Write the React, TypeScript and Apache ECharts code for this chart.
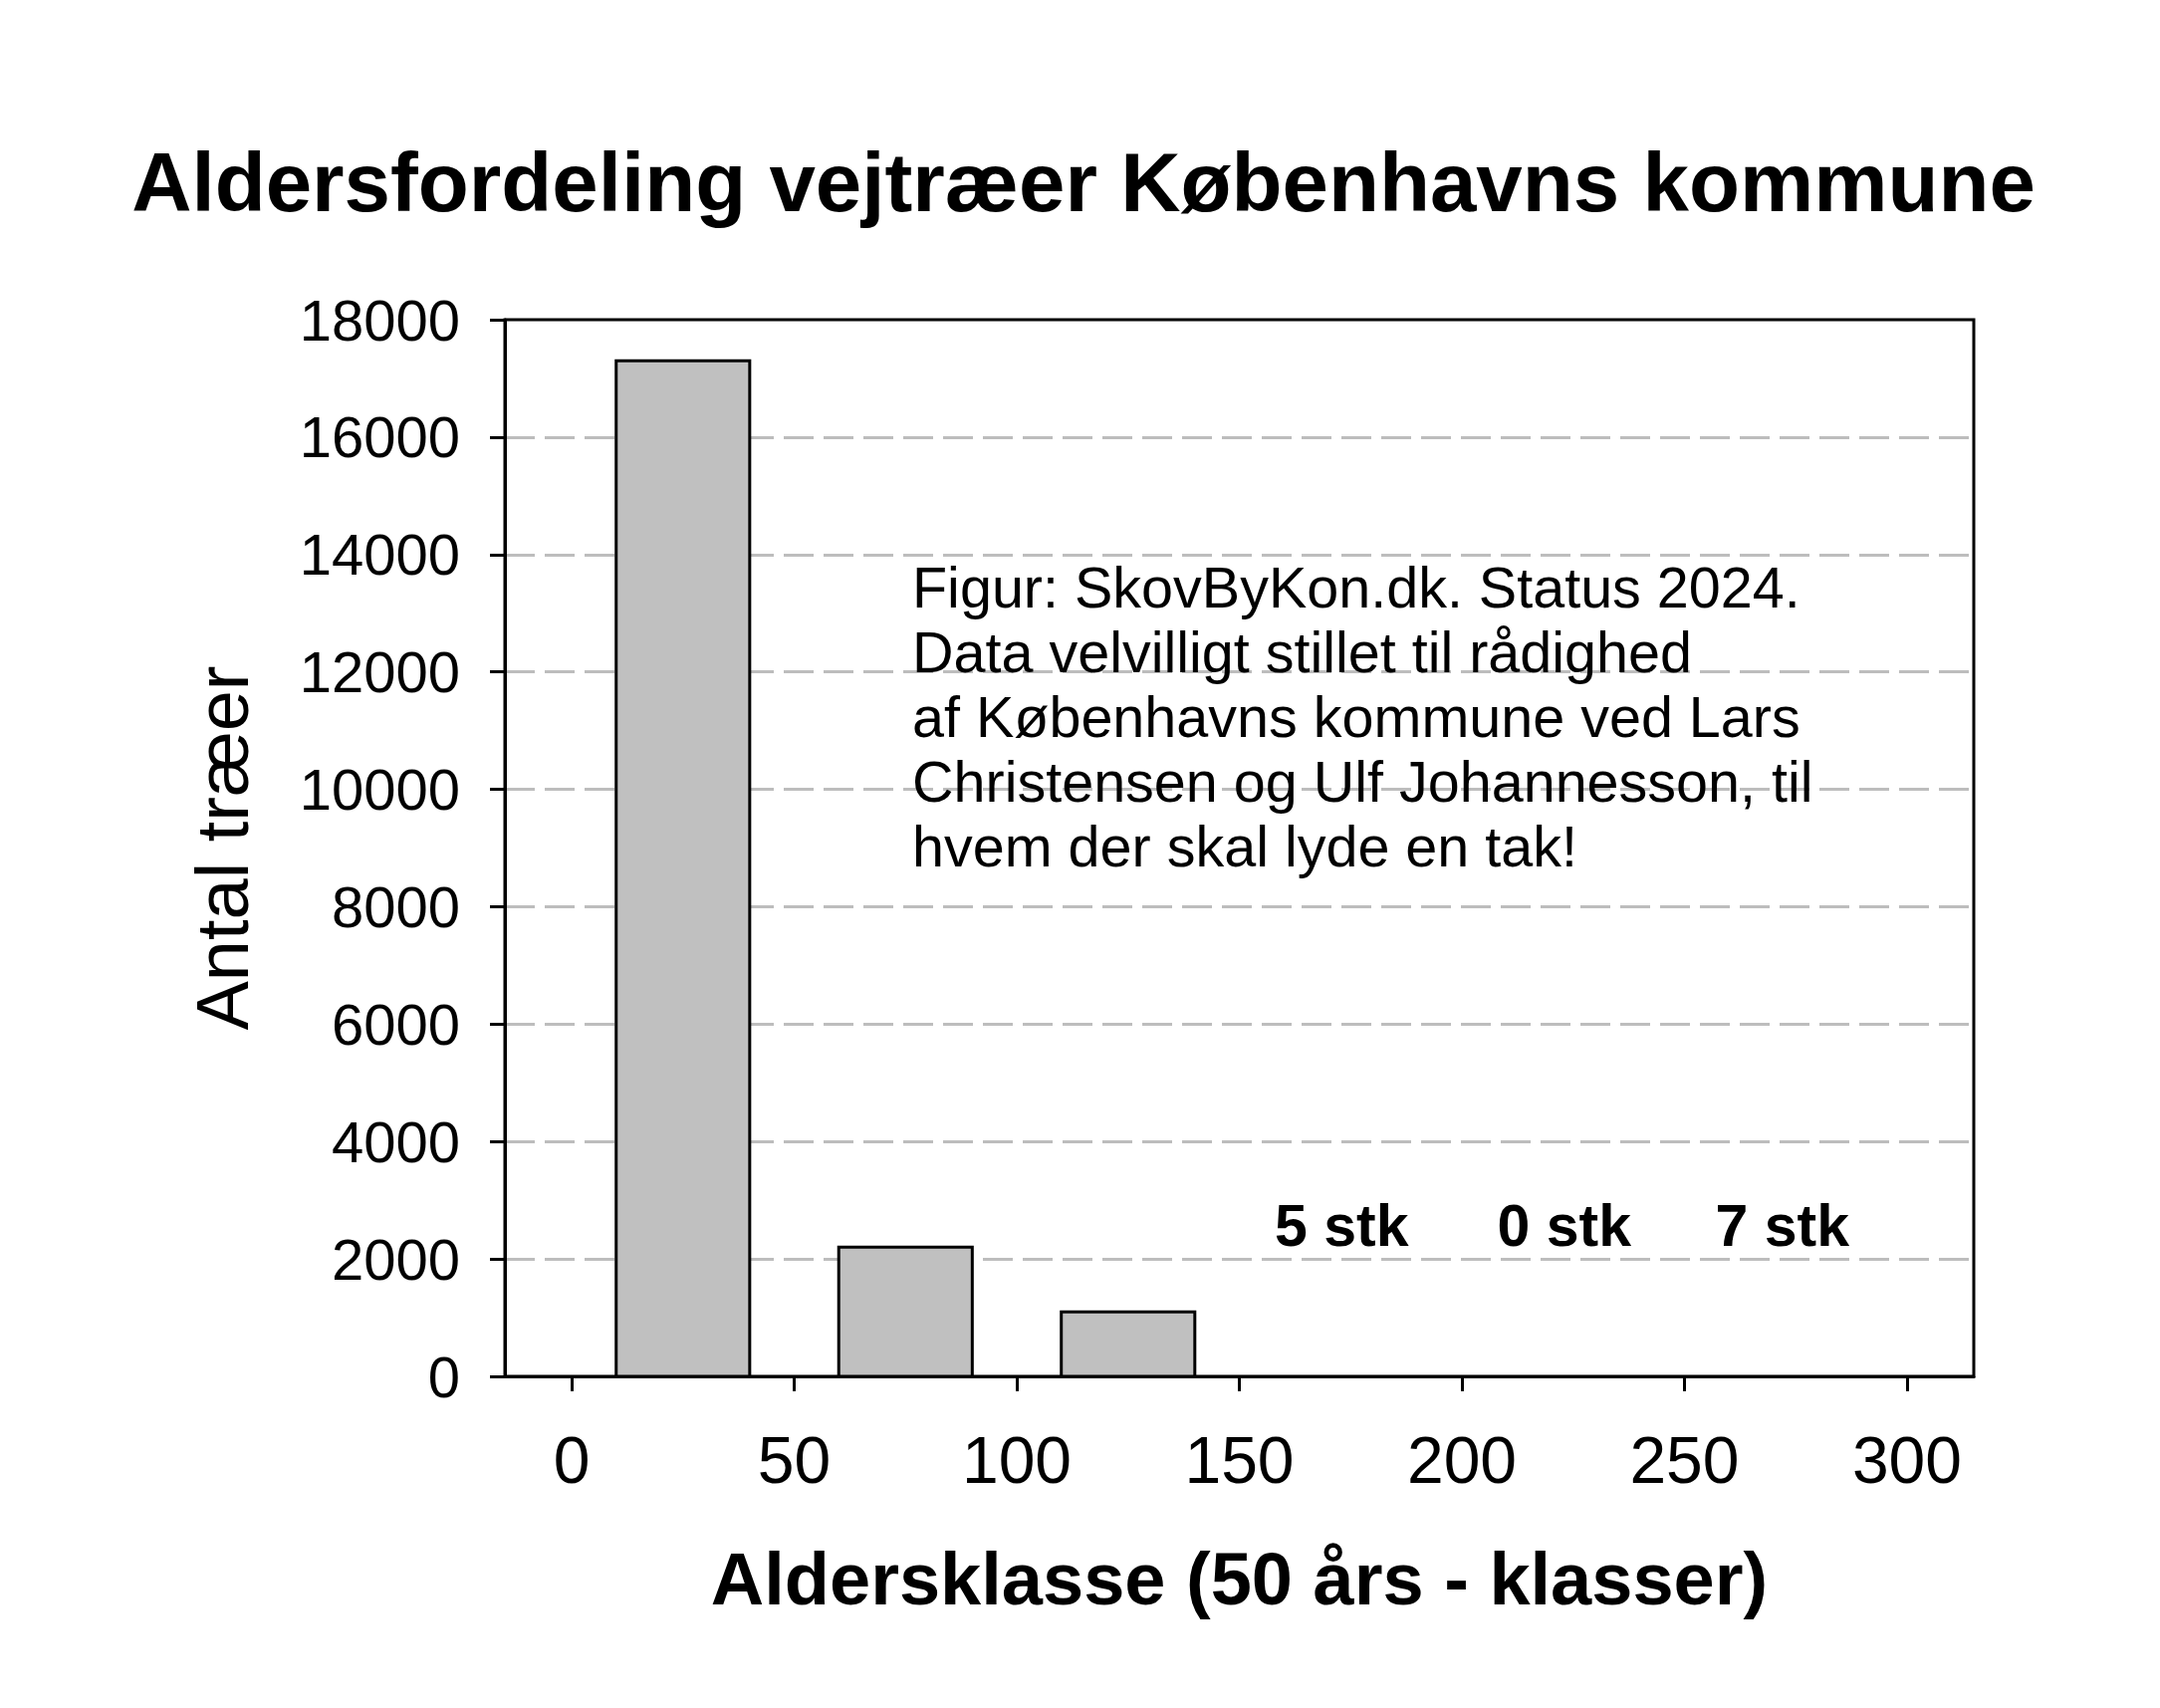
import React, { useEffect, useRef } from 'react'
import * as echarts from 'echarts'

// aldersklasser (år) og antal træer pr. klasse
const binStarts = [10, 60, 110]
const binEnds = [40, 90, 140]
const treeCounts = [17300, 2200, 1100]

// tekst over de tomme klasser
const noteCenters = [173, 223, 272]
const noteCounts = [5, 0, 7]

const xTicks = [0, 50, 100, 150, 200, 250, 300]

const FONT = '"Liberation Sans", Arial, sans-serif'

const noteText =
    'Figur: SkovByKon.dk. Status 2024.\n' +
    'Data velvilligt stillet til rådighed\n' +
    'af Københavns kommune ved Lars\n' +
    'Christensen og Ulf Johannesson, til\n' +
    'hvem der skal lyde en tak!'

const App: React.FC = () => {
    const chartRef = useRef<HTMLDivElement>(null)

    useEffect(() => {
        const chart = echarts.init(chartRef.current, null, { renderer: 'svg' })

        const barData = binStarts.map((s, i) => [s, binEnds[i], treeCounts[i]])
        const noteData = noteCenters.map((x, i) => [x, 2563, noteCounts[i]])

        const option = {
            animation: false,
            backgroundColor: '#fff',
            textStyle: { fontFamily: FONT },
            title: {
                text: 'Aldersfordeling vejtræer Københavns kommune',
                left: 1083,
                top: 136,
                textAlign: 'center',
                textStyle: { fontSize: 83.5, fontWeight: 'bold', color: '#000', fontFamily: FONT },
            },
            grid: {
                left: 507,
                top: 321,
                width: 1475,
                height: 1061,
                show: true,
                borderColor: '#000',
                borderWidth: 3,
                backgroundColor: 'transparent',
            },
            xAxis: {
                type: 'value',
                min: -15,
                max: 315,
                name: 'Aldersklasse (50 års - klasser)',
                nameLocation: 'middle',
                nameGap: 166,
                nameTextStyle: { fontSize: 74, fontWeight: 'bold', color: '#000', fontFamily: FONT },
                axisLine: { show: true, onZero: false, lineStyle: { color: '#000', width: 3 } },
                axisTick: { show: true, customValues: xTicks, length: 15, lineStyle: { color: '#000', width: 3 } },
                axisLabel: { customValues: xTicks, fontSize: 66, margin: 51, color: '#000', fontFamily: FONT },
                splitLine: { show: false },
            },
            yAxis: {
                type: 'value',
                min: 0,
                max: 18000,
                interval: 2000,
                name: 'Antal træer',
                nameLocation: 'middle',
                nameGap: 247,
                nameTextStyle: { fontSize: 74, color: '#000', fontFamily: FONT },
                axisLine: { show: true, onZero: false, lineStyle: { color: '#000', width: 3 } },
                axisTick: { show: true, length: 15, lineStyle: { color: '#000', width: 3 } },
                axisLabel: {
                    fontSize: 58,
                    margin: 45,
                    color: '#000',
                    fontFamily: FONT,
                    formatter: (v: number) => String(v),
                },
                splitLine: {
                    show: true,
                    showMinLine: false,
                    showMaxLine: false,
                    lineStyle: { color: '#bdbdbd', width: 3, type: [30, 10] },
                },
            },
            graphic: [
                {
                    type: 'text',
                    left: 916,
                    top: 557,
                    z: 10,
                    style: {
                        text: noteText,
                        font: `57.5px ${FONT}`,
                        lineHeight: 65,
                        fill: '#000',
                    },
                },
            ],
            series: [
                {
                    type: 'custom',
                    data: barData,
                    encode: { x: [0, 1], y: 2 },
                    renderItem: (params: any, api: any) => {
                        const p0 = api.coord([api.value(0), api.value(2)])
                        const p1 = api.coord([api.value(1), 0])
                        return {
                            type: 'rect',
                            shape: { x: p0[0], y: p0[1], width: p1[0] - p0[0], height: p1[1] - p0[1] },
                            style: { fill: '#c0c0c0', stroke: '#000', lineWidth: 3 },
                        }
                    },
                },
                {
                    type: 'scatter',
                    data: noteData,
                    symbolSize: 1,
                    itemStyle: { color: 'transparent', opacity: 1 },
                    label: {
                        show: true,
                        position: 'inside',
                        formatter: (p: any) => `${p.value[2]} stk`,
                        fontSize: 59,
                        fontWeight: 'bold',
                        color: '#000',
                        opacity: 1,
                        fontFamily: FONT,
                    },
                },
            ],
        }

        chart.setOption(option)

        return () => {
            chart.dispose()
        }
    }, [])

    return (
        <div
            ref={chartRef}
            style={{ position: 'absolute', left: 0, top: 0, width: '2169px', height: '1715px' }}
        />
    )
}

export default App
